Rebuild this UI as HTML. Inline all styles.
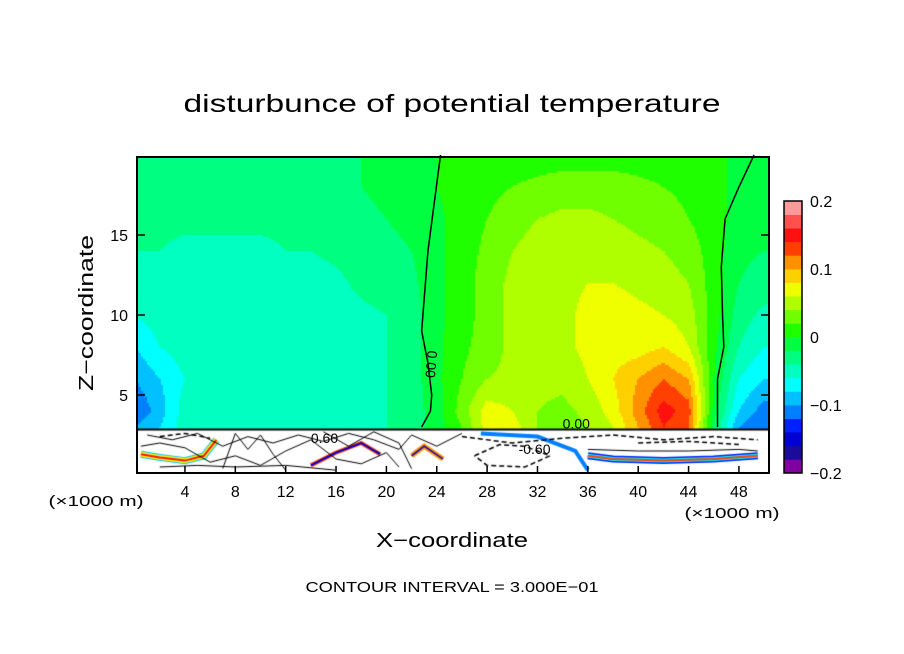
<!DOCTYPE html>
<html><head><meta charset="utf-8"><style>
html,body{margin:0;padding:0;background:#fff;width:904px;height:654px;overflow:hidden}
#wrap{position:relative;width:904px;height:654px}
canvas,svg{position:absolute;left:0;top:0}
text{font-family:"Liberation Sans",sans-serif;fill:#000}
</style></head><body>
<div id="wrap">
<canvas id="field" width="904" height="654"></canvas>
<svg id="ov" width="904" height="654">
<text x="452" y="112" font-size="25" text-anchor="middle" textLength="537" lengthAdjust="spacingAndGlyphs">disturbunce of potential temperature</text>
<text transform="translate(93,313) rotate(-90)" font-size="20" text-anchor="middle" textLength="156" lengthAdjust="spacingAndGlyphs">Z−coordinate</text>
<text x="452" y="547" font-size="20" text-anchor="middle" textLength="152" lengthAdjust="spacingAndGlyphs">X−coordinate</text>
<text x="96" y="506" font-size="15" text-anchor="middle" textLength="95" lengthAdjust="spacingAndGlyphs">(×1000 m)</text>
<text x="732" y="518" font-size="15" text-anchor="middle" textLength="95" lengthAdjust="spacingAndGlyphs">(×1000 m)</text>
<text x="452" y="592" font-size="15" text-anchor="middle" textLength="293" lengthAdjust="spacingAndGlyphs">CONTOUR INTERVAL = 3.000E−01</text>
<g id="ticks"></g>
<g id="lines" fill="none" stroke="#000" stroke-width="1.5"></g>
<rect x="137" y="157" width="632" height="316" fill="none" stroke="#000" stroke-width="2"/>
<g id="cbar"></g>
</svg>
</div>
<script>
// ---- data ----
const xCoords=[0,2,4,6,8,10,12,14,16,18,20,22,24,26,28,30,32,34,36,38,40,42,44,46,48,50];
const zCoords=[3,4,6,8,10,12,14,16,18,20];
const fieldRows=[
[-0.1,-0.08,-0.05,-0.05,-0.05,-0.045,-0.05,-0.06,-0.05,-0.05,-0.04,-0.03,-0.01,0.02,0.07,0.07,0.04,0.03,0.04,0.06,0.1,0.14,0.12,-0.02,-0.1,-0.12],
[-0.12,-0.09,-0.05,-0.05,-0.05,-0.05,-0.05,-0.05,-0.05,-0.05,-0.04,-0.03,-0.01,0.03,0.07,0.06,0.04,0.035,0.045,0.07,0.11,0.15,0.13,-0.01,-0.08,-0.11],
[-0.1,-0.08,-0.06,-0.05,-0.05,-0.05,-0.05,-0.05,-0.05,-0.05,-0.04,-0.03,-0.005,0.02,0.04,0.045,0.045,0.045,0.06,0.08,0.1,0.12,0.1,0.0,-0.06,-0.08],
[-0.08,-0.06,-0.05,-0.05,-0.05,-0.05,-0.05,-0.05,-0.05,-0.045,-0.04,-0.03,-0.005,0.015,0.03,0.045,0.05,0.055,0.065,0.07,0.07,0.08,0.06,0.005,-0.04,-0.06],
[-0.06,-0.05,-0.05,-0.05,-0.05,-0.05,-0.05,-0.05,-0.05,-0.045,-0.04,-0.03,-0.005,0.01,0.03,0.045,0.05,0.055,0.065,0.07,0.065,0.06,0.05,0.01,-0.03,-0.045],
[-0.045,-0.045,-0.05,-0.05,-0.05,-0.05,-0.05,-0.05,-0.045,-0.035,-0.03,-0.025,-0.005,0.01,0.03,0.045,0.05,0.055,0.06,0.06,0.055,0.05,0.04,0.01,-0.02,-0.03],
[-0.04,-0.04,-0.045,-0.045,-0.045,-0.045,-0.04,-0.04,-0.035,-0.03,-0.025,-0.02,-0.005,0.01,0.025,0.04,0.05,0.05,0.055,0.05,0.045,0.04,0.03,0.01,-0.015,-0.02],
[-0.035,-0.035,-0.035,-0.035,-0.035,-0.035,-0.035,-0.03,-0.03,-0.025,-0.02,-0.015,-0.005,0.01,0.02,0.03,0.04,0.045,0.045,0.04,0.035,0.03,0.02,0.01,-0.01,-0.015],
[-0.03,-0.03,-0.03,-0.03,-0.03,-0.03,-0.03,-0.03,-0.025,-0.02,-0.015,-0.01,0.0,0.01,0.015,0.02,0.025,0.03,0.03,0.03,0.025,0.02,0.015,0.01,-0.01,-0.01],
[-0.03,-0.03,-0.03,-0.03,-0.03,-0.03,-0.03,-0.03,-0.025,-0.02,-0.015,-0.01,0.0,0.01,0.01,0.01,0.01,0.01,0.01,0.01,0.01,0.01,0.01,0.01,-0.01,-0.01]];
const levelColors=["#8000a0","#1c0a9a","#0000d0","#0020ff","#0080ff","#00c0ff","#00ffff","#00ffc0","#00ff80","#00ff40","#20ff00","#70ff00","#b0ff00","#f0ff00","#ffd000","#ff9000","#ff4000","#ff1010","#ff5050","#ff9a9a"];
const xTicks=[4,8,12,16,20,24,28,32,36,40,44,48];
const zTicks=[5,10,15];
const cbarLabels=["0.2","0.1","0","−0.1","−0.2"];
const cbarValues=[0.2,0.1,0,-0.1,-0.2];
// zero contour lines [x,z]
const zeroLineA=[[24.3,20],[23.8,17],[23.3,14],[23.0,11],[22.8,9],[23.3,7],[23.6,5],[23.5,4],[22.8,3]];
const zeroLineB=[[49.2,20],[48.0,18],[46.9,16],[46.6,13],[46.7,10],[46.8,8],[46.3,6],[46.3,3]];
const groundZ=2.85;
// ---- axes ----
const X=v=>134.6+12.59*v, Z=v=>475-16*v;
const vmin=-0.2,vmax=0.2;
function colorFor(v){let i=Math.floor((v-vmin)/(vmax-vmin)*20);i=Math.max(0,Math.min(19,i));return levelColors[i];}
function sample(x,z){
  let i=0;while(i<xCoords.length-2&&x>xCoords[i+1])i++;
  let j=0;while(j<zCoords.length-2&&z>zCoords[j+1])j++;
  let tx=(x-xCoords[i])/(xCoords[i+1]-xCoords[i]);tx=Math.max(0,Math.min(1,tx));
  let tz=(z-zCoords[j])/(zCoords[j+1]-zCoords[j]);tz=Math.max(0,Math.min(1,tz));
  const a=fieldRows[j][i],b=fieldRows[j][i+1],c=fieldRows[j+1][i],d=fieldRows[j+1][i+1];
  return (a*(1-tx)+b*tx)*(1-tz)+(c*(1-tx)+d*tx)*tz;
}
const ctx=document.getElementById('field').getContext('2d');
const x0=137,x1=769,y0=157,yg=Z(groundZ);
for(let py=y0;py<yg;py+=2){for(let px=x0;px<x1;px+=2){
  const xv=(px+1-134.6)/12.59, zv=(475-(py+1))/16;
  ctx.fillStyle=colorFor(sample(xv,zv));ctx.fillRect(px,py,2,2);}}
ctx.fillStyle="#fff";ctx.fillRect(x0,yg,x1-x0,473-yg);
function path(pts){ctx.beginPath();pts.forEach((p,k)=>k?ctx.lineTo(X(p[0]),Z(p[1])):ctx.moveTo(X(p[0]),Z(p[1])));ctx.stroke();}
function streak(pts,col,w){ctx.strokeStyle=col;ctx.lineWidth=w;path(pts);}
const s1=[[0.5,1.3],[2,1.1],[4,0.9],[5.5,1.2],[6.5,2.2]];
const s2=[[36,1.2],[38,1.0],[42,0.9],[46,1.0],[49.5,1.2]];
const s3=[[27.5,2.6],[32,2.4],[35,1.5],[36,0.3]];
const s4=[[14,0.6],[16,1.4],[18,2.0],[19.5,1.3]];
const s5=[[22,1.2],[23,1.8],[24.5,1.0]];
[[s1,"#00c0ff",7],[s1,"#f0ff00",5],[s1,"#ff1010",2],[s2,"#0020ff",7],[s2,"#00ffff",4],[s2,"#ff4000",2],[s3,"#0080ff",4],[s4,"#ff4000",4],[s4,"#0000d0",2],[s5,"#ff9000",5],[s5,"#0000d0",1.5]].forEach(s=>streak(s[0],s[1],s[2]));
ctx.strokeStyle="#000";ctx.lineWidth=1;
const wigs=[
[[1,2.5],[3,2.2],[5,2.6],[7,1.8],[9,2.4],[11,2.0],[13,2.5],[15,2.1],[17,2.6],[19,2.2],[21,1.6],[22,2.5],[24,1.8],[26,2.6]],
[[0.5,1.8],[2,2.0],[4,1.7],[6,0.8],[8,1.2],[10,0.6],[12,1.5],[14,2.2],[16,1.0],[18,0.7],[20,1.4],[21,0.5]],
[[7,0.4],[8,2.6],[9,1.6],[10,2.5],[11,1.3],[12,0.3]],
[[15,2.7],[17,1.8],[19,2.7],[21,2.0],[22,0.4]],
[[36,1.6],[40,1.5],[44,1.5],[48,1.6],[49.5,1.5]],
[[2,0.5],[5,0.6],[8,0.5],[12,0.6],[16,0.3]]];
wigs.forEach(path);
ctx.setLineDash([5,3]);ctx.lineWidth=1.5;
const dashes=[
[[26,2.4],[30,2.0],[34,2.3],[38,2.5],[42,2.2],[46,2.4],[49.5,2.2]],
[[27,1.2],[29,1.9],[31,1.8],[33,1.2],[31,0.5],[28,0.6],[27,1.2]],
[[40,2.0],[44,2.1],[48,1.9]],
[[2,2.4],[4,2.6],[6,2.3]]];
dashes.forEach(path);
ctx.setLineDash([]);ctx.lineWidth=2;ctx.beginPath();ctx.moveTo(x0,yg);ctx.lineTo(x1,yg);ctx.stroke();
// ---- svg overlay ----
const NS="http://www.w3.org/2000/svg";
function mk(tag,attrs,parent){const e=document.createElementNS(NS,tag);for(const k in attrs)e.setAttribute(k,attrs[k]);parent.appendChild(e);return e;}
const tg=document.getElementById('ticks');
xTicks.forEach(v=>{
  const l=mk('line',{x1:X(v),x2:X(v),y1:473,y2:466,stroke:"#000","stroke-width":1.5},tg);
  
  
  const t=mk('text',{x:X(v),y:497,"font-size":16,"text-anchor":"middle"},tg);t.textContent=v;
  
  
});
zTicks.forEach(v=>{
  const l=mk('line',{x1:137,x2:145,y1:Z(v),y2:Z(v),stroke:"#000","stroke-width":1.5},tg);
  
  
  const l2=mk('line',{x1:761,x2:769,y1:Z(v),y2:Z(v),stroke:"#000","stroke-width":1.5},tg);
  
  
  const t=mk('text',{x:128,y:Z(v)+6,"font-size":16,"text-anchor":"end"},tg);t.textContent=v;
  
  
});
const lg=document.getElementById('lines');
[zeroLineA,zeroLineB].forEach(L=>{
  const p=mk('polyline',{points:L.map(q=>X(q[0])+","+Z(q[1])).join(" ")},lg);
  
  
});
const lab=mk('text',{transform:"translate("+(X(22.8)+6)+","+Z(7.8)+") rotate(95)","font-size":14,stroke:"none"},lg);lab.textContent="0.00";


const lab2=mk('text',{x:X(34),y:Z(2.9),"font-size":14,stroke:"none"},lg);lab2.textContent="0.00";


const lab3=mk('text',{x:X(30.5),y:Z(1.3),"font-size":14,stroke:"none"},lg);lab3.textContent="-0.60";


const lab4=mk('text',{x:X(14),y:Z(2.0),"font-size":14,stroke:"none"},lg);lab4.textContent="0.60";


const cb=document.getElementById('cbar');
const cbTop=201,cbBot=473,cbH=(cbBot-cbTop)/20;
levelColors.forEach((c,i)=>{
  const r=mk('rect',{x:784,y:cbBot-(i+1)*cbH,width:18,height:cbH+0.3,fill:c},cb);
  
  
});
const fr=mk('rect',{x:784,y:cbTop,width:18,height:cbBot-cbTop,fill:"none",stroke:"#000","stroke-width":1.5},cb);


cbarValues.forEach((v,i)=>{
  const y=cbBot-(v-vmin)/(vmax-vmin)*(cbBot-cbTop);
  const t=mk('text',{x:810,y:y+6,"font-size":16},cb);t.textContent=cbarLabels[i];
  
  
});
</script>
</body></html>
